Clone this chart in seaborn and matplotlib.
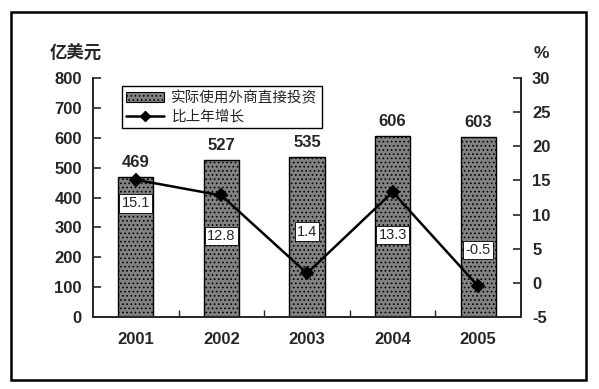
import numpy as np
import pandas as pd
import matplotlib.pyplot as plt
import seaborn as sns
from matplotlib.patches import Rectangle, Patch
from matplotlib.lines import Line2D

years = ['2001', '2002', '2003', '2004', '2005']
fdi = [469, 527, 535, 606, 603]
growth = [15.1, 12.8, 1.4, 13.3, -0.5]
growth_labels = ['15.1', '12.8', '1.4', '13.3', '-0.5']
# label offset (in points) for the growth labels: below or above the point
label_offsets = [-17, -29, 30, -31, 26]

sns.set_style('ticks')
plt.rcParams['font.family'] = ['Liberation Sans', 'Noto Sans CJK SC', 'DejaVu Sans']
plt.rcParams['axes.unicode_minus'] = False
plt.rcParams['hatch.color'] = '#333333'
plt.rcParams['hatch.linewidth'] = 0.7

df = pd.DataFrame({'year': years, 'fdi': fdi, 'growth': growth})

fig = plt.figure(figsize=(5.99, 3.89), dpi=100)
ax = fig.add_axes([93 / 599, 1 - 317 / 389, 428 / 599, 239 / 389])

sns.barplot(data=df, x='year', y='fdi', ax=ax, color='#828282', width=0.41,
            edgecolor='black', linewidth=1.0, hatch='....', saturation=1)
ax.set_xlim(-0.5, 4.5)
ax.set_ylim(0, 800)
ax.set_yticks(range(0, 801, 100))
ax.set_xlabel('')
ax.set_ylabel('')
for i, v in enumerate(fdi):
    ax.annotate(str(v), (i, v), xytext=(0, 5), textcoords='offset points',
                ha='center', va='bottom', fontsize=12, fontweight='bold')

ax2 = ax.twinx()
sns.pointplot(data=df, x='year', y='growth', ax=ax2, color='black',
              markers='D', markersize=6, linewidth=1.8)
ax2.set_ylim(-5, 30)
ax2.set_yticks(range(-5, 31, 5))
ax2.set_xlim(-0.5, 4.5)
ax2.set_ylabel('')
ax2.set_xlabel('')
for i, (v, t) in enumerate(zip(growth, growth_labels)):
    ax2.annotate(t, (i, v), xytext=(0, label_offsets[i]), textcoords='offset points',
                 ha='center', va='center', fontsize=10.5,
                 bbox=dict(boxstyle='square,pad=0.15', fc='white', ec='black', lw=0.6))

for a in (ax, ax2):
    a.spines['top'].set_visible(False)
    for s in a.spines.values():
        s.set_linewidth(1.4)
ax.spines['right'].set_visible(False)
ax2.spines['left'].set_visible(False)
ax2.spines['bottom'].set_visible(False)

ax.tick_params(axis='y', direction='in', length=6, width=1.2, labelsize=12, pad=8)
ax2.tick_params(axis='y', direction='in', length=6, width=1.2, labelsize=12, pad=8)
ax.tick_params(axis='x', length=0, labelsize=12, pad=11)
ax.set_xticks(np.arange(0.5, 4, 1), minor=True)
ax.tick_params(axis='x', which='minor', direction='in', length=5, width=1.0)
for lab in ax.get_yticklabels() + ax2.get_yticklabels() + ax.get_xticklabels():
    lab.set_fontweight('bold')

handles = [Patch(facecolor='#828282', edgecolor='black', hatch='....', lw=0.8),
           Line2D([], [], color='black', marker='D', markersize=5, lw=1.8)]
leg = ax.legend(handles, ['实际使用外商直接投资', '比上年增长'], loc='upper left',
                bbox_to_anchor=(0.05, 0.995), fancybox=False, framealpha=1,
                edgecolor='black', fontsize=10.5, handlelength=2.6,
                borderpad=0.3, labelspacing=0.3, handletextpad=0.5)
leg.get_frame().set_linewidth(1.0)

fig.text(76 / 599, 1 - 53 / 389, '亿美元', ha='center', va='center', fontsize=12.5,
         fontweight='bold')
fig.text(541 / 599, 1 - 53 / 389, '%', ha='center', va='center', fontsize=12.5,
         fontweight='bold')
fig.patches.append(Rectangle((11 / 599, 1 - 380 / 389), 575 / 599, 368 / 389,
                             transform=fig.transFigure, fill=False, ec='black', lw=1.8))

fig.savefig('out.png', dpi=100)
